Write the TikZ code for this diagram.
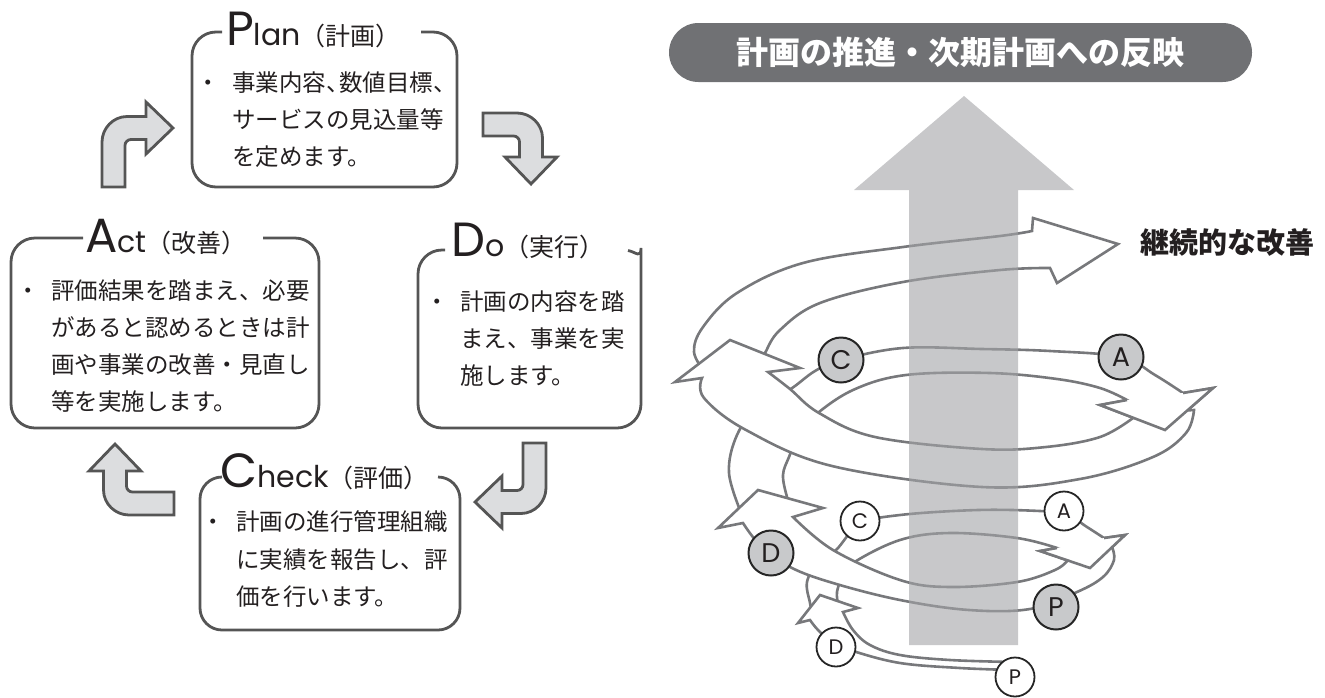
\documentclass[tikz,border=0pt]{standalone}
\usepackage{fontspec}
\newfontfamily\JpFont{Noto Sans CJK JP}
\newfontfamily\LatFont{Poppins}
\definecolor{boxline}{HTML}{555555}
\definecolor{arrfill}{HTML}{DCDDDF}
\definecolor{bandline}{HTML}{77787B}
\definecolor{bannerc}{HTML}{707174}
\definecolor{shaftc}{HTML}{A3A4A7}
\definecolor{circfill}{HTML}{C8C9CB}
\definecolor{ink}{HTML}{231F20}
\newcommand{\BigLet}[1]{{\LatFont\fontsize{48}{48}\selectfont #1}}
\newcommand{\MidLat}[1]{{\LatFont\fontsize{30}{30}\selectfont #1}}
\newcommand{\JpTtl}[1]{{\JpFont\fontsize{25}{25}\selectfont #1}}
\newcommand{\BentArrow}[4]{%
\begin{scope}[shift={(#1,#2)}, rotate=#3]
\draw[bent] (-71,#4) -- (-71,14) .. controls (-71,0.3) and (-59.8,-11.5) .. (-46,-11.5) -- (-27,-11.5) -- (-27,-26) -- (0,0) -- (-27,26) -- (-27,11.5) -- (-42,11.5) .. controls (-45.3,11.5) and (-48,14.2) .. (-48,17.5) -- (-48,#4) -- cycle;
\end{scope}}
\tikzset{
 box/.style={draw=boxline, line width=2.8pt, rounded corners=24pt},
 txt/.style={font=\JpFont\fontsize{23.5}{37}\selectfont, text=ink, inner sep=0pt, text height=20.7pt, text depth=2.8pt, anchor=west},
 bul/.style={txt, anchor=center},
 ttl/.style={inner sep=0pt, anchor=base west, text=ink},
 bent/.style={draw=boxline, fill=arrfill, line width=2.8pt, line join=miter},
 band/.style={draw=bandline, fill=white, line width=2.6pt, line join=miter},
 headline/.style={draw=bandline, line width=2.6pt, line join=miter},
 gcirc/.style={circle, draw=black!85, fill=circfill, line width=2pt, minimum size=45pt, inner sep=0pt, text=ink, font=\LatFont\fontsize{27}{27}\selectfont},
 wcirc/.style={circle, draw=black!85, fill=white, line width=1.8pt, minimum size=39pt, inner sep=0pt, text=ink, font=\LatFont\fontsize{21}{21}\selectfont},
}
\begin{document}
\begin{tikzpicture}[x=1pt,y=-1pt]
\useasboundingbox (0,0) rectangle (1325,697);

% ---------- PDCA boxes ----------
\draw[box] (421,32) -- (457,32) -- (457,187) -- (192,187) -- (192,32) -- (222,32);
\node[ttl] (plant) at (226,45) {\BigLet{P}\MidLat{lan}\JpTtl{（計画）}};
\node[bul] (planb) at (208,83) {・};
\node[txt] (plan1) at (232,83) {事業内容、\kern-.45em 数値目標、};
\node[txt] (plan2) at (232,120) {サービスの見込量等};
\node[txt] (plan3) at (232,157) {を定めます。};

\draw[box] (263,238) -- (319,238) -- (319,428) -- (11,428) -- (11,238) -- (83,238);
\node[ttl] (actt) at (85,252) {\BigLet{A}\MidLat{ct}\JpTtl{（改善）}};
\node[bul] (actb) at (28,291) {・};
\node[txt] (act1) at (51,291) {評価結果を踏まえ、必要};
\node[txt] (act2) at (51,328) {があると認めるときは計};
\node[txt] (act3) at (51,365) {画や事業の改善・見直し};
\node[txt] (act4) at (51,402) {等を実施します。};

\draw[box] (628,250.5) .. controls (636,252) and (641,259) .. (641,272) -- (641,428) -- (418,428) -- (418,250) -- (445,250);
\node[ttl] (dot) at (451,256) {\BigLet{D}\MidLat{o}\JpTtl{（実行）}};
\node[bul] (dob) at (437,302) {・};
\node[txt] (do1) at (460,302) {計画の内容を踏};
\node[txt] (do2) at (460,339) {まえ、事業を実};
\node[txt] (do3) at (460,376) {施します。};

\draw[box, rounded corners=22pt] (438,477) -- (460,477) -- (460,630) -- (200,630) -- (200,477) -- (222,477);
\node[ttl] (checkt) at (220,487) {\BigLet{C}\MidLat{heck}\JpTtl{（評価）}};
\node[bul] (checkb) at (213,522) {・};
\node[txt] (check1) at (236,522) {計画の進行管理組織};
\node[txt] (check2) at (236,560) {に実績を報告し、評};
\node[txt] (check3) at (236,597) {価を行います。};

% ---------- cycle arrows ----------
\BentArrow{173}{128}{0}{59}
\BentArrow{531}{184}{-90}{48}
\BentArrow{475}{502}{180}{59}
\BentArrow{115}{444}{90}{59}

% ---------- right panel ----------
\node[fill=bannerc, rounded corners=29.5pt, minimum width=583pt, minimum height=59pt, inner sep=0pt, text=white, font=\JpFont\bfseries\fontsize{32}{32}\selectfont] (banner) at (960.5,52.5) {計画の推進・次期計画への反映};

% level 4 (top sweep)
\draw[band] plot[smooth, tension=0.6] coordinates {(705,372) (694,352) (703,327) (737,293) (803,263) (903,247) (1000,236) (1032,231)} -- (1033,218) -- (1118,244) -- (1057,283) -- plot[smooth, tension=0.6] coordinates {(1050,268) (1000,270) (903,282) (820,303) (780,330) (765,353) (758,368)} -- cycle;

% level 3 back band with connector
\draw[band] plot[smooth, tension=0.6] coordinates {(742,515) (729,473) (737,435) (760,403) (789,390) (815,371) (841,360) (903,348) (982,349) (1050,351) (1121,357) (1155,375) (1183,393)} -- (1213,388) -- (1165,430) -- (1100,405) -- plot[smooth, tension=0.6] coordinates {(1127,400) (1100,388) (1057,379) (990,373) (906,375) (853,390) (813,417) (798,437) (789,457) (783,475) (787,497) (792,510)} -- cycle;

% level 3 front band
\draw[band] (1160,412) -- plot[smooth, tension=0.6] coordinates {(1133,418) (1100,437) (1046,447) (982,449) (875,437) (819,413) (790,389) (768,372)} -- (800,368) -- (730,340) -- (675,382) -- plot[smooth, tension=0.6] coordinates {(702,378) (704,398) (746,430) (832,466) (982,487) (1080,479) (1153,457) (1186,433) (1194,410)} -- cycle;
\fill[white] (1127,400) -- (1100,405) -- (1165,430) -- (1213,388) -- (1183,393) -- cycle;
\draw[headline] (1127,400) -- (1100,405) -- (1165,430) -- (1213,388) -- (1183,393);

% level 2 back band with connector
\draw[band] plot[smooth, tension=0.6] coordinates {(812,612) (810,603) (807,582) (818,562) (836,550) (860,524) (900,515) (978,510) (1040,511) (1066,514) (1087,527) (1104,538)} -- (1125,535) -- (1090,568) -- (1040,551) -- plot[smooth, tension=0.6] coordinates {(1057,548) (1017,538) (950,533) (900,540) (853,563) (842,578) (837,592) (838,604)} -- cycle;

% level 2 front band
\draw[band] (1090,556) -- plot[smooth, tension=0.6] coordinates {(1068,560) (1055,570) (1017,582) (950,587) (900,580) (833,550) (793,517)} -- (823,508) -- (758,490) -- (718,528) -- plot[smooth, tension=0.6] coordinates {(743,523) (760,545) (790,567) (833,583) (900,600) (969,610) (1030,609) (1077,592) (1103,577) (1114,560) (1112,547)} -- cycle;
\fill[white] (1057,548) -- (1040,551) -- (1090,568) -- (1125,535) -- (1104,538) -- cycle;
\draw[headline] (1057,548) -- (1040,551) -- (1090,568) -- (1125,535) -- (1104,538);

% level 1 band
\draw[band] plot[smooth, tension=0.6] coordinates {(1012,670) (960,668) (900,663) (853,651) (832,642) (818,630) (810,620)} -- (798,623) -- (820,595) -- (858,608) -- plot[smooth, tension=0.6] coordinates {(843,612) (853,630) (870,645) (900,655) (950,660) (1012,662)} -- cycle;

% labels
\node[gcirc] (gC) at (841,360) {C};
\node[gcirc] (gA) at (1121,357) {A};
\node[gcirc] (gD) at (771,553) {D};
\node[gcirc] (gP) at (1056,607) {P};
\node[wcirc] (wC) at (860,521) {C};
\node[wcirc] (wA) at (1064,511) {A};
\node[wcirc] (wD) at (836,647) {D};
\node[wcirc] (wP) at (1015,677) {P};

% big upward arrow (translucent, over the spiral)
\fill[shaftc, opacity=0.6] (909,645) -- (909,190) -- (854,190) -- (964,96) -- (1074,190) -- (1018,190) -- (1018,645) -- cycle;

\node[inner sep=0pt, text=ink, font=\JpFont\bfseries\fontsize{29}{29}\selectfont] (kaizen) at (1227,243) {継続的な改善};
\end{tikzpicture}
\end{document}
